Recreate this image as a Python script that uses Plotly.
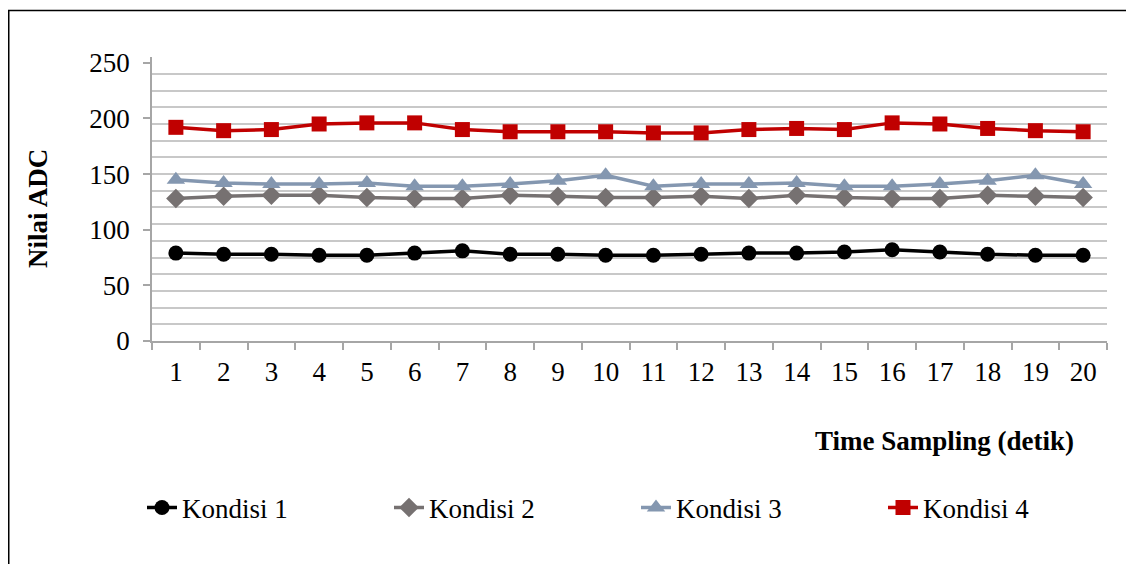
import plotly.graph_objects as go

x_vals = list(range(1, 21))
kondisi1 = [79, 78, 78, 77, 77, 79, 81, 78, 78, 77, 77, 78, 79, 79, 80, 82, 80, 78, 77, 77]
kondisi2 = [128, 130, 131, 131, 129, 128, 128, 131, 130, 129, 129, 130, 128, 131, 129, 128, 128, 131, 130, 129]
kondisi3 = [145, 142, 141, 141, 142, 139, 139, 141, 144, 149, 139, 141, 141, 142, 139, 139, 141, 144, 149, 141]
kondisi4 = [192, 189, 190, 195, 196, 196, 190, 188, 188, 188, 187, 187, 190, 191, 190, 196, 195, 191, 189, 188]
series_names = ["Kondisi 1", "Kondisi 2", "Kondisi 3", "Kondisi 4"]
y_ticks = [0, 50, 100, 150, 200, 250]

# page body has an 8px margin; figure is placed at (8, 8) in the window
OFF = 8
W, H = 1134 - OFF, 564 - OFF
L, R, T, B = 152 - OFF, 27, 57 - OFF, 223
PW, PH = W - L - R, H - T - B

def px(xw):
    return (xw - OFF - L) / PW

def py(yw):
    return (H - B - (yw - OFF)) / PH

FONT = "Liberation Serif, Times New Roman, serif"
FS = 27

styles = [
    dict(color="#000000", symbol="circle", size=15),
    dict(color="#767171", symbol="diamond", size=15),
    dict(color="#8497B0", symbol="triangle-up", size=16),
    dict(color="#C00000", symbol="square", size=15),
]

fig = go.Figure()
for name, ys, st in zip(series_names, [kondisi1, kondisi2, kondisi3, kondisi4], styles):
    fig.add_trace(go.Scatter(
        x=x_vals, y=ys, name=name, mode="lines+markers",
        line=dict(color=st["color"], width=3.5),
        marker=dict(color=st["color"], symbol=st["symbol"], size=st["size"], line=dict(width=0)),
    ))

fig.update_layout(
    width=W, height=H,
    margin=dict(l=L, r=R, t=T, b=B, pad=0),
    paper_bgcolor="white", plot_bgcolor="white",
    font=dict(family=FONT, size=FS, color="black"),
    showlegend=True,
    legend=dict(
        orientation="h", x=px(142), xanchor="left", y=py(508), yanchor="middle",
        entrywidth=202, entrywidthmode="pixels",
        font=dict(family=FONT, size=FS, color="black"),
        bgcolor="rgba(0,0,0,0)", itemsizing="trace",
    ),
    xaxis=dict(
        range=[0.5, 20.5], tickmode="array", tickvals=x_vals, ticktext=[str(v) for v in x_vals],
        ticks="outside", ticklen=6, tickcolor="rgba(0,0,0,0)",
        showgrid=False, zeroline=False,
        showline=True, linecolor="#a6a6a6", linewidth=1.5,
        minor=dict(tick0=0.5, dtick=1, ticks="outside", ticklen=7, tickcolor="#a6a6a6", tickwidth=1.5, showgrid=False),
        tickfont=dict(family=FONT, size=FS),
        fixedrange=True,
    ),
    yaxis=dict(
        range=[0, 255.2], tickmode="array", tickvals=y_ticks,
        ticks="outside", ticklen=7, tickcolor="#a6a6a6", tickwidth=1.5,
        ticklabelstandoff=8,
        showgrid=False, zeroline=False,
        showline=True, linecolor="#a6a6a6", linewidth=1.5,
        minor=dict(tick0=0, dtick=15, ticks="", showgrid=True, gridcolor="#c8c8c8", gridwidth=1.5),
        tickfont=dict(family=FONT, size=FS),
        fixedrange=True,
    ),
)

fig.add_annotation(
    text="<b>Time Sampling (detik)</b>", xref="paper", yref="paper",
    x=px(944), y=py(441), xanchor="center", yanchor="middle", showarrow=False,
    font=dict(family=FONT, size=FS, color="black"),
)
fig.add_annotation(
    text="<b>Nilai ADC</b>", xref="paper", yref="paper",
    x=px(38), y=py(209), xanchor="center", yanchor="middle", showarrow=False, textangle=-90,
    font=dict(family=FONT, size=FS, color="black"),
)

# outer frame (left and top edges visible)
fig.add_shape(type="line", xref="paper", yref="paper", x0=px(8.75), x1=px(8.75), y0=py(600), y1=py(10.5),
              line=dict(color="black", width=1.5))
fig.add_shape(type="line", xref="paper", yref="paper", x0=px(8), x1=px(1200), y0=py(10.5), y1=py(10.5),
              line=dict(color="black", width=1.5))

fig.write_html("out.html")
